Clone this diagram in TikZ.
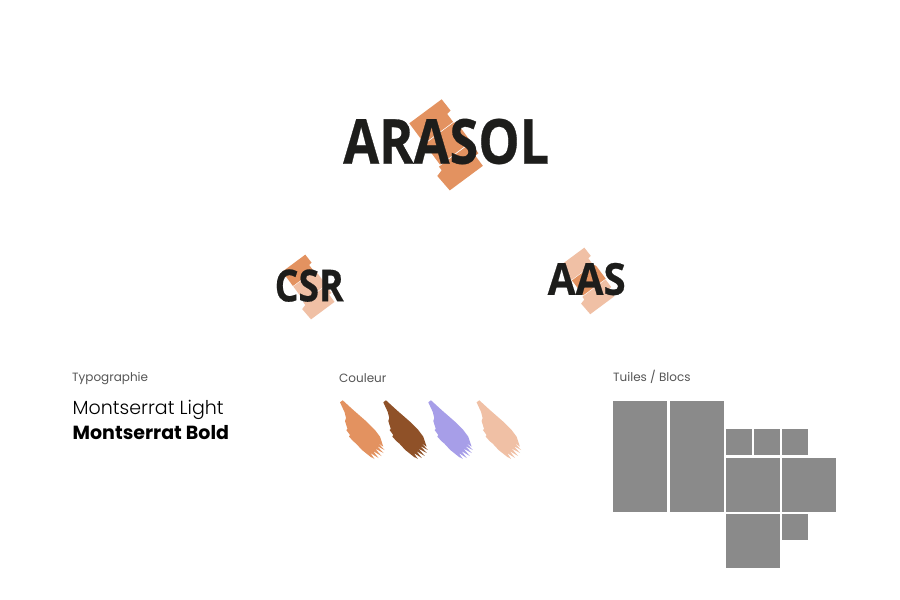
\documentclass[tikz,border=0pt]{standalone}
\usepackage{fontspec}
\setmainfont{Open Sans}
\newfontfamily\poplight{Poppins Light}
\newfontfamily\popreg{Poppins}
\newfontfamily\logofont[BoldFeatures={FakeBold=0.5}]{Open Sans}
\definecolor{tileA}{HTML}{E39260}
\definecolor{tileB}{HTML}{F0C0A5}
\definecolor{brushB}{HTML}{8F5128}
\definecolor{brushC}{HTML}{A79EE8}
\definecolor{inkdark}{HTML}{1D1D1B}
\definecolor{blockgray}{HTML}{8A8A8A}
\definecolor{labelgray}{HTML}{555555}
\tikzset{
  caption/.style={anchor=base west,inner sep=0pt,text=labelgray,font=\popreg\fontsize{12}{14}\selectfont},
  logotext/.style={inner sep=0pt,text=inkdark},
  block/.style={fill=blockgray,draw=none}
}
% #1 ox, #2 oy, #3 scale, #4 #5 #6 tile colours
\newcommand{\tilemark}[6]{%
  \begin{scope}[shift={(#1,#2)},x={(.803*#3 pt,.596*#3 pt)},y={(.596*#3 pt,-.803*#3 pt)}]
    \fill[#4] (0,0)--(40.3,0)--(40.7,14.3)--(36,15)--(36,25)--(0,25)--cycle;
    \fill[#5] (0,25.9)--(36.5,25.9)--(38.5,30)--(38.5,51.5)--(0,51.5)--cycle;
    \fill[#6] (-2,52.5)--(37.7,52.5)--(37.7,65.3)--(33.7,65.3)--(33.7,78)--(-7.5,78)--(-8.9,59)--(-2,57)--cycle;
  \end{scope}}
% #1 dx, #2 colour
\newcommand{\brushmark}[2]{%
  \fill[#2,shift={(#1,0)}] (340,402.3)--(342.7,400.3)--(353.3,410)--(366.7,421.7)--(375,430)--(380,436.7)--(383.3,446.7)
   --(378,443)--(384.5,450)--(377,446)--(383.5,453)--(375,448.5)--(381.5,456)--(373,451)--(378.5,458)--(370.5,453)--(374.5,459)
   --(367,454)--(371.7,457.7)--(362,450)--(356,443.5)--(353,441)--(349,436.5)--(350,435)--(346.3,430)--(347.5,429)--(345,421)--(346,418)--(344.5,412)--cycle;}
\begin{document}
\begin{tikzpicture}[x=1pt,y=-1pt]
\useasboundingbox (0,0) rectangle (900,600);
\fill[white] (0,0) rectangle (900,600);
\tilemark{409.3}{123.3}{1}{tileA}{tileA}{tileA}
\tilemark{282.3}{271.7}{.71}{tileA}{tileB}{tileB}
\tilemark{560.7}{265.2}{.73}{tileB}{tileA}{tileB}
\node[logotext,anchor=south west] (arasol) at (343,164.5) {\resizebox{206pt}{45pt}{\logofont\bfseries ARASOL}};
\node[logotext,anchor=south west] (csr) at (274.5,302) {\resizebox{69pt}{32pt}{\logofont\bfseries CSR}};
\node[logotext,anchor=south west] (aas) at (547.5,295.5) {\resizebox{78pt}{32pt}{\logofont\bfseries AAS}};
\node[caption] (typo) at (72,381) {Typographie};
\node[caption] (coul) at (339,382) {Couleur};
\node[caption] (tuiles) at (613,381) {Tuiles / Blocs};
\node[anchor=base west,inner sep=0pt,text=black,font=\poplight\fontsize{19}{22}\selectfont] (light) at (72.5,414) {Montserrat Light};
\node[anchor=base west,inner sep=0pt,text=black,font=\popreg\bfseries\fontsize{19}{22}\selectfont] (bold) at (72.5,439.5) {Montserrat Bold};
\brushmark{0}{tileA}
\brushmark{43.3}{brushB}
\brushmark{88.3}{brushC}
\brushmark{136.6}{tileB}
\fill[block] (613.3,401.3) rectangle (667.3,511.7);
\fill[block] (669.7,401.3) rectangle (723.7,511.7);
\fill[block] (725.7,429.3) rectangle (751.7,455.3);
\fill[block] (754,429.3) rectangle (780,455.3);
\fill[block] (782,429.3) rectangle (807.7,455.3);
\fill[block] (725.7,457.7) rectangle (780,511.7);
\fill[block] (782,457.7) rectangle (836,511.7);
\fill[block] (725.7,513.7) rectangle (780,568);
\fill[block] (782,513.7) rectangle (808,540);
\end{tikzpicture}
\end{document}
